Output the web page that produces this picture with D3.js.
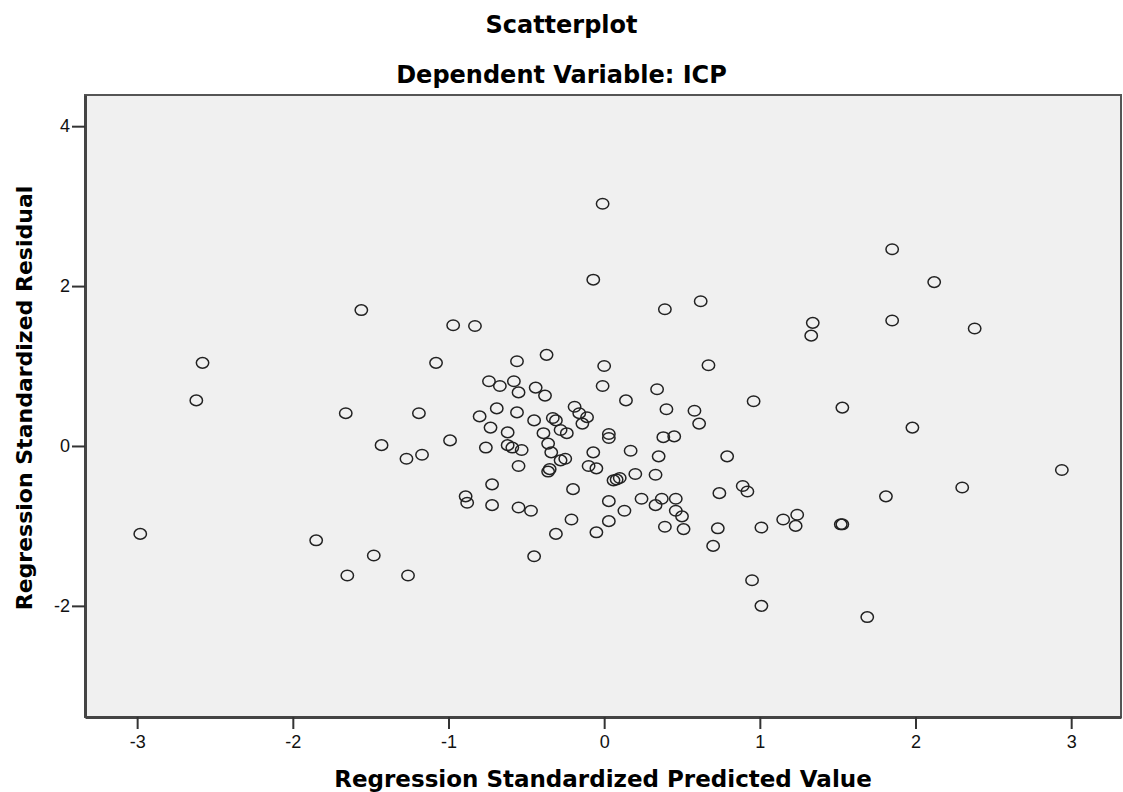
<!DOCTYPE html>
<html>
<head>
<meta charset="utf-8">
<script src="https://cdn.jsdelivr.net/npm/d3@7"></script>
<style>
  body { margin: 0; background: #fff; }
  .tick text { font-family: "Liberation Sans", Arial, sans-serif; font-size: 18px; fill: #111; }
  .title, .axis-label { font-family: "DejaVu Sans", sans-serif; font-weight: bold; fill: #000; }
</style>
</head>
<body>
<div id="chart"></div>
<script>
// regression standardized predicted value (x) / standardized residual (y)
var predicted = [
  -2.98, -2.62, -2.58, -1.85, -1.66, -1.65, -1.56, -1.48, -1.43, -1.26,
  -1.27, -1.19, -1.17, -1.08, -0.99, -0.97, -0.83, -0.89, -0.88, -0.80,
  -0.76, -0.56, -0.37, 0.00, -0.01, 0.14, 0.34, 0.40, 0.58, 0.61,
  -0.74, -0.67, -0.58, -0.55, -0.44, -0.38, -0.69, -0.56, -0.73, -0.45,
  -0.33, -0.31, -0.19, -0.16, -0.11, -0.14, -0.28, -0.24, -0.62, -0.39,
  0.03, 0.03, 0.38, 0.45, -0.62, -0.59, -0.53, -0.36, -0.34, -0.55,
  -0.28, -0.25, -0.07, 0.17, 0.35, -0.10, -0.05, -0.36, -0.35, 0.06,
  0.08, 0.10, 0.20, 0.33, -0.72, -0.20, -0.72, -0.55, -0.47, 0.03,
  0.24, 0.37, 0.46, 0.33, 0.46, 0.50, 0.13, -0.21, 0.03, 0.39,
  0.51, -0.31, -0.05, -0.45, -0.01, -0.07, 0.39, 0.62, 1.85, 2.12,
  1.34, 1.33, 1.85, 2.38, 0.67, 0.96, 1.53, 1.98, 0.79, 2.94,
  2.30, 1.81, 0.74, 0.89, 0.92, 0.73, 0.70, 1.01, 1.15, 1.24,
  1.23, 1.52, 1.53, 0.95, 1.01, 1.69
];
var residual = [
  -1.10, 0.57, 1.04, -1.18, 0.41, -1.62, 1.70, -1.37, 0.01, -1.62,
  -0.16, 0.41, -0.11, 1.04, 0.07, 1.51, 1.50, -0.63, -0.71, 0.37,
  -0.02, 1.06, 1.14, 1.00, 0.75, 0.57, 0.71, 0.46, 0.44, 0.28,
  0.81, 0.75, 0.81, 0.67, 0.73, 0.63, 0.47, 0.42, 0.23, 0.32,
  0.35, 0.32, 0.49, 0.41, 0.36, 0.28, 0.20, 0.16, 0.17, 0.16,
  0.15, 0.10, 0.11, 0.12, 0.01, -0.02, -0.05, 0.03, -0.08, -0.25,
  -0.18, -0.16, -0.08, -0.06, -0.13, -0.25, -0.28, -0.32, -0.29, -0.43,
  -0.42, -0.40, -0.35, -0.36, -0.48, -0.54, -0.74, -0.77, -0.81, -0.69,
  -0.66, -0.66, -0.66, -0.74, -0.81, -0.88, -0.81, -0.92, -0.94, -1.01,
  -1.04, -1.10, -1.08, -1.38, 3.03, 2.08, 1.71, 1.81, 2.46, 2.05,
  1.54, 1.38, 1.57, 1.47, 1.01, 0.56, 0.48, 0.23, -0.13, -0.30,
  -0.52, -0.63, -0.59, -0.50, -0.57, -1.03, -1.25, -1.02, -0.92, -0.86,
  -1.00, -0.98, -0.98, -1.68, -2.00, -2.14
];
var xTicks = [-3, -2, -1, 0, 1, 2, 3];
var yTicks = [-2, 0, 2, 4];

var title = "Scatterplot",
    subtitle = "Dependent Variable: ICP",
    xLabel = "Regression Standardized Predicted Value",
    yLabel = "Regression Standardized Residual";

var W = 1123, H = 792;
var margin = {top: 95, right: 2, bottom: 75, left: 85},
    width = W - margin.left - margin.right,
    height = H - margin.top - margin.bottom;

var root = d3.select("#chart")
  .append("svg")
    .attr("width", W)
    .attr("height", H);

root.append("text")
    .attr("class", "title")
    .attr("x", W / 2)
    .attr("y", 33)
    .attr("text-anchor", "middle")
    .style("font-size", "24px")
    .text(title);

root.append("text")
    .attr("class", "title")
    .attr("x", W / 2)
    .attr("y", 83)
    .attr("text-anchor", "middle")
    .style("font-size", "24px")
    .text(subtitle);

var svg = root.append("g")
    .attr("transform", "translate(" + margin.left + "," + margin.top + ")");

var x = d3.scaleLinear()
    .domain([-3.335, 3.32])
    .range([0, width]);

var y = d3.scaleLinear()
    .domain([-3.39, 4.39])
    .range([height, 0]);

// plot frame
svg.append("rect")
    .attr("width", width)
    .attr("height", height)
    .attr("fill", "#f0f0f0")
    .attr("stroke", "#555")
    .attr("stroke-width", 2);

var plain = function(d) { return String(d); };  // hyphen minus, like the original

var xAxis = svg.append("g")
    .attr("transform", "translate(0," + height + ")")
    .call(d3.axisBottom(x).tickValues(xTicks).tickSizeInner(12).tickSizeOuter(0)
      .tickPadding(6).tickFormat(plain));

var yAxis = svg.append("g")
    .call(d3.axisLeft(y).tickValues(yTicks).tickSizeInner(13).tickSizeOuter(0)
      .tickPadding(2).tickFormat(plain));

[xAxis, yAxis].forEach(function(a) {
  a.select(".domain").attr("stroke", "#444").attr("stroke-width", 3);
  a.selectAll(".tick line").attr("stroke", "#333").attr("stroke-width", 2);
});

var points = predicted.map(function(d, i) { return [d, residual[i]]; });

svg.selectAll(".dot")
    .data(points)
  .enter().append("ellipse")
    .attr("class", "dot")
    .attr("cx", function(d) { return x(d[0]); })
    .attr("cy", function(d) { return y(d[1]); })
    .attr("rx", 6.2)
    .attr("ry", 5.3)
    .attr("fill", "none")
    .attr("stroke", "#222")
    .attr("stroke-width", 1.5);

root.append("text")
    .attr("class", "axis-label")
    .attr("x", margin.left + width / 2)
    .attr("y", 787)
    .attr("text-anchor", "middle")
    .style("font-size", "23px")
    .text(xLabel);

root.append("text")
    .attr("class", "axis-label")
    .attr("transform", "translate(32," + (margin.top + height / 2 - 8) + ") rotate(-90)")
    .attr("text-anchor", "middle")
    .style("font-size", "22px")
    .text(yLabel);
</script>
</body>
</html>
